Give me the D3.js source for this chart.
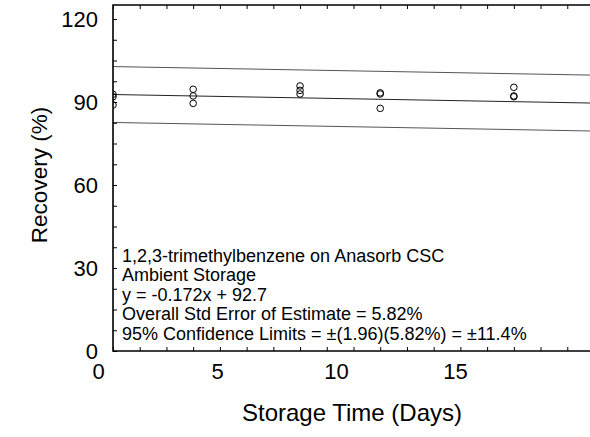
<!DOCTYPE html>
<html><head><meta charset="utf-8">
<script src="https://cdn.jsdelivr.net/npm/d3@7"></script>
<style>body{margin:0;background:#fff}svg{display:block}text{font-family:"Liberation Sans",Arial,sans-serif}</style>
</head><body><svg id="c" width="590" height="437"></svg>
<script>
// data
const days     = [0,0,0, 3,3,3, 7,7,7, 10,10,10, 15,15,15];
const recovery = [92.8,91.9,88.9, 94.6,92.2,89.5, 95.8,94.2,92.9, 93.3,92.9,87.7, 95.3,92.2,91.9];
const slope = -0.172, intercept = 92.7, bandHalf = 10.1;
const xTickLabels = [0,5,10,15];
const yTickLabels = [0,30,60,90,120];
const noteLines = ["1,2,3-trimethylbenzene on Anasorb CSC","Ambient Storage","y = -0.172x + 92.7",
  "Overall Std Error of Estimate = 5.82%","95% Confidence Limits = \u00b1(1.96)(5.82%) = \u00b111.4%"];

const svg = d3.select("#c");
const L=113, T=5, B=351, R=594;
const x = d3.scaleLinear().domain([0,18]).range([L,R]);
const y = d3.scaleLinear().domain([0,125]).range([B, B-125*(332/120)]);
const xLab = d3.scaleLinear().domain([0,18]).range([98, 98+18*23.8]);

svg.append("defs").append("clipPath").attr("id","clip").append("rect")
  .attr("x",L).attr("y",T).attr("width",R-L).attr("height",B-T);

// regression & band lines
const lineGen = d3.line().x(d=>x(d[0])).y(d=>y(d[1]));
const g = svg.append("g").attr("clip-path","url(#clip)");
[[intercept+bandHalf,"#555"],[intercept,"#222"],[intercept-bandHalf,"#555"]].forEach(([b,c])=>{
  g.append("path").attr("d",lineGen([[0,b],[18,b+slope*18]])).attr("fill","none")
    .attr("stroke",c).attr("stroke-width",1);
});
// points
g.selectAll("circle").data(days.map((d,i)=>[d,recovery[i]])).join("circle")
  .attr("cx",d=>x(d[0])).attr("cy",d=>y(d[1])).attr("r",3.3)
  .attr("fill","none").attr("stroke","#000").attr("stroke-width",1);

// ticks (inward)
svg.append("g").attr("transform",`translate(0,${B})`)
  .call(d3.axisTop(x).ticks(18).tickSize(4).tickFormat(""))
  .call(a=>a.select(".domain").remove());
svg.append("g").attr("transform",`translate(0,${T})`)
  .call(d3.axisBottom(x).ticks(18).tickSize(4).tickFormat(""))
  .call(a=>a.select(".domain").remove());
svg.append("g").attr("transform",`translate(${L},0)`)
  .call(d3.axisRight(y).tickValues(d3.range(0,125,7.5)).tickSize(4).tickFormat(""))
  .call(a=>a.select(".domain").remove());

// frame
svg.append("path").attr("d",`M${R},${T}H${L}V${B}H${R}`).attr("fill","none")
  .attr("stroke","#000").attr("stroke-width",1.6);

// tick labels
svg.append("g").attr("transform",`translate(0,${B+9})`)
  .call(d3.axisBottom(xLab).tickValues(xTickLabels).tickSize(0))
  .call(a=>a.select(".domain").remove())
  .selectAll("text").attr("font-size",22).attr("fill","#000").attr("font-family","Liberation Sans, Arial, sans-serif");
svg.append("g").attr("transform",`translate(${L-12},0)`)
  .call(d3.axisLeft(y).tickValues(yTickLabels).tickSize(0))
  .call(a=>a.select(".domain").remove())
  .selectAll("text").attr("font-size",22).attr("fill","#000").attr("font-family","Liberation Sans, Arial, sans-serif");

// axis titles
svg.append("text").attr("x",352).attr("y",421).attr("text-anchor","middle")
  .attr("font-size",24).text("Storage Time (Days)");
svg.append("text").attr("transform","translate(47,175) rotate(-90)").attr("text-anchor","middle")
  .attr("font-size",22.5).text("Recovery (%)");

// note
svg.append("g").selectAll("text").data(noteLines).join("text")
  .attr("x",122).attr("y",(d,i)=>262+i*19.4).attr("font-size",18).text(d=>d);
</script></body></html>
